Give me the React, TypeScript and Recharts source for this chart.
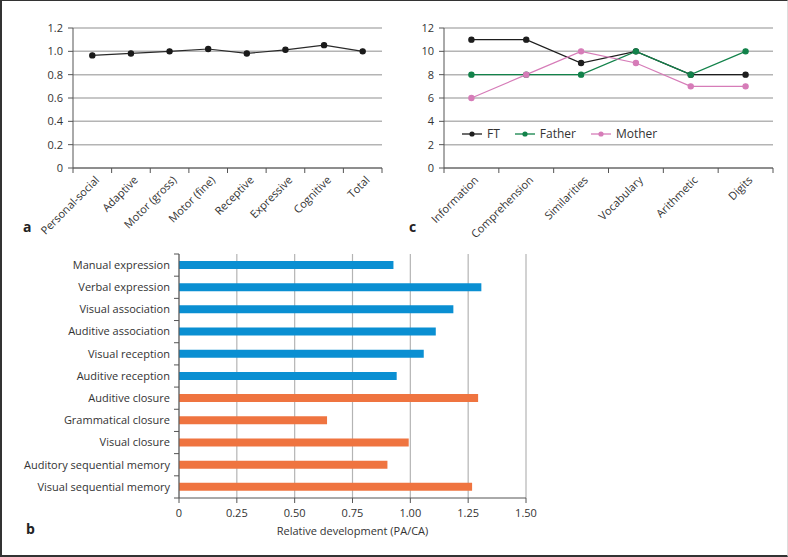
import { Bar, BarChart, CartesianGrid, Cell, Line, LineChart, XAxis, YAxis } from "recharts";

const devCategories = ["Personal-social", "Adaptive", "Motor (gross)", "Motor (fine)", "Receptive", "Expressive", "Cognitive", "Total"];
const devRatio = [0.965, 0.982, 1.0, 1.02, 0.982, 1.013, 1.053, 1.0];
const devTicks = [0, 0.2, 0.4, 0.6, 0.8, 1.0, 1.2];

const wisCategories = ["Information", "Comprehension", "Similarities", "Vocabulary", "Arithmetic", "Digits"];
const ftScores = [11, 11, 9, 10, 8, 8];
const fatherScores = [8, 8, 8, 10, 8, 10];
const motherScores = [6, 8, 10, 9, 7, 7];
const wisTicks = [0, 2, 4, 6, 8, 10, 12];

const itpaCategories = [
  "Manual expression",
  "Verbal expression",
  "Visual association",
  "Auditive association",
  "Visual reception",
  "Auditive reception",
  "Auditive closure",
  "Grammatical closure",
  "Visual closure",
  "Auditory sequential memory",
  "Visual sequential memory",
];
const itpaValues = [0.927, 1.307, 1.186, 1.11, 1.058, 0.941, 1.293, 0.64, 0.993, 0.901, 1.267];
const itpaGroups = ["rep", "rep", "rep", "rep", "rep", "rep", "auto", "auto", "auto", "auto", "auto"];
const itpaTicks = [0, 0.25, 0.5, 0.75, 1.0, 1.25, 1.5];

const FONT = "'Open Sans', sans-serif";
const FS = 11;
const TEXT = "#333";
const AXIS = "#555";
const GRID = "#b4b4b4";
const GROUP_COLOR: Record<string, string> = { rep: "#0a8fd2", auto: "#ef7440" };

const wisSeries = [
  { key: "ft", name: "FT", color: "#1e1e1e", values: ftScores },
  { key: "father", name: "Father", color: "#12824a", values: fatherScores },
  { key: "mother", name: "Mother", color: "#d67cb8", values: motherScores },
];

const devData = devCategories.map((name, i) => ({ name, value: devRatio[i] }));
const wisData = wisCategories.map((name, i) => {
  const row: Record<string, string | number> = { name };
  wisSeries.forEach((s) => (row[s.key] = s.values[i]));
  return row;
});
const itpaData = itpaCategories.map((name, i) => ({ name, value: itpaValues[i], group: itpaGroups[i] }));

// slanted label, tick marks sit on the category boundaries
function SlantTick(props: any) {
  const { x, y, payload, index, visibleTicksCount, width } = props;
  const band = width / visibleTicksCount;
  const last = index === visibleTicksCount - 1;
  const ax = x + 5;
  const ay = y + 10;
  return (
    <g>
      <line x1={x - band / 2} x2={x - band / 2} y1={y} y2={y + 5} stroke={AXIS} />
      {last && <line x1={x + band / 2} x2={x + band / 2} y1={y} y2={y + 5} stroke={AXIS} />}
      <text x={ax} y={ay} transform={`rotate(-45, ${ax}, ${ay})`} textAnchor="end" dy="0.35em" fontSize={FS} fill={TEXT} fontFamily={FONT}>
        {payload.value}
      </text>
    </g>
  );
}

function RowTick(props: any) {
  const { x, y, payload, index, visibleTicksCount, height } = props;
  const band = height / visibleTicksCount;
  const last = index === visibleTicksCount - 1;
  return (
    <g>
      <line x1={x - 5} x2={x} y1={y - band / 2} y2={y - band / 2} stroke={AXIS} />
      {last && <line x1={x - 5} x2={x} y1={y + band / 2} y2={y + band / 2} stroke={AXIS} />}
      <text x={x - 9} y={y} textAnchor="end" dy="0.35em" fontSize={FS} fill={TEXT} fontFamily={FONT}>
        {payload.value}
      </text>
    </g>
  );
}

const tickStyle = { fontSize: FS, fill: TEXT, fontFamily: FONT };

function PanelLabel({ text, x, y }: { text: string; x: number; y: number }) {
  return (
    <div style={{ position: "absolute", left: x, top: y, fontFamily: FONT, fontWeight: 700, fontSize: 14, color: "#222" }}>
      {text}
    </div>
  );
}

export default function App() {
  return (
    <div
      style={{
        position: "absolute",
        left: 0,
        top: 0,
        width: 788,
        height: 557,
        boxSizing: "border-box",
        borderLeft: "2px solid #333",
        borderTop: "1px solid #333",
        borderBottom: "2px solid #333",
        borderRight: "1px solid #ddd",
        background: "#fff",
        overflow: "hidden",
      }}
    >
      <div style={{ position: "absolute", left: -2, top: -1 }}>
        <LineChart width={400} height={240} data={devData} margin={{ top: 28, right: 18, left: 0, bottom: 0 }}>
          <CartesianGrid vertical={false} stroke={GRID} strokeWidth={1.5} />
          <XAxis dataKey="name" scale="band" interval={0} tickLine={false} tickSize={0} tickMargin={0} height={72} stroke={AXIS} tick={<SlantTick />} />
          <YAxis
            domain={[0, 1.2]}
            ticks={devTicks}
            width={73}
            tickSize={5}
            tickMargin={5}
            stroke={AXIS}
            tick={tickStyle}
            tickFormatter={(v) => (v === 0 ? "0" : v.toFixed(1))}
          />
          <Line dataKey="value" stroke="#2a2a2a" strokeWidth={1.2} dot={{ r: 2.6, fill: "#1a1a1a", stroke: "#1a1a1a" }} isAnimationActive={false} />
        </LineChart>
      </div>
      <PanelLabel text="a" x={21} y={216} />

      <div style={{ position: "absolute", left: 398, top: -1 }}>
        <LineChart width={390} height={240} data={wisData} margin={{ top: 28, right: 17, left: 0, bottom: 0 }}>
          <CartesianGrid vertical={false} stroke={GRID} strokeWidth={1.5} />
          <XAxis dataKey="name" scale="band" interval={0} tickLine={false} tickSize={0} tickMargin={0} height={72} stroke={AXIS} tick={<SlantTick />} />
          <YAxis domain={[0, 12]} ticks={wisTicks} width={44} tickSize={5} tickMargin={5} stroke={AXIS} tick={tickStyle} />
          {wisSeries.map((s) => (
            <Line
              key={s.key}
              dataKey={s.key}
              name={s.name}
              stroke={s.color}
              strokeWidth={1.2}
              dot={{ r: 2.6, fill: s.color, stroke: s.color }}
              isAnimationActive={false}
            />
          ))}
        </LineChart>
      </div>
      <div style={{ position: "absolute", left: 459, top: 124, display: "flex", gap: 14, fontFamily: FONT, fontSize: 12, color: TEXT }}>
        {wisSeries.map((s) => (
          <span key={s.key} style={{ display: "flex", alignItems: "center", gap: 4 }}>
            <svg width={22} height={10}>
              <line x1={1} x2={21} y1={5} y2={5} stroke={s.color} strokeWidth={1.3} />
              <circle cx={11} cy={5} r={2.6} fill={s.color} />
            </svg>
            {s.name}
          </span>
        ))}
      </div>
      <PanelLabel text="c" x={407} y={216} />

      <div style={{ position: "absolute", left: -2, top: 239 }}>
        <BarChart width={542} height={317} data={itpaData} layout="vertical" margin={{ top: 14, right: 16, left: 0, bottom: 0 }}>
          <CartesianGrid horizontal={false} stroke={GRID} strokeWidth={1.2} />
          <XAxis
            type="number"
            domain={[0, 1.5]}
            ticks={itpaTicks}
            height={59}
            tickSize={5}
            tickMargin={6}
            stroke={AXIS}
            tick={tickStyle}
            tickFormatter={(v) => (v === 0 ? "0" : v.toFixed(2))}
            label={{ value: "Relative development (PA/CA)", position: "insideBottom", offset: 22, fontSize: FS, fill: TEXT, fontFamily: FONT }}
          />
          <YAxis type="category" dataKey="name" width={179} interval={0} tickLine={false} tickSize={0} tickMargin={0} stroke={AXIS} tick={<RowTick />} />
          <Bar dataKey="value" barSize={8} isAnimationActive={false}>
            {itpaData.map((d) => (
              <Cell key={d.name} fill={GROUP_COLOR[d.group]} />
            ))}
          </Bar>
        </BarChart>
      </div>
      <PanelLabel text="b" x={24} y={518} />
    </div>
  );
}
